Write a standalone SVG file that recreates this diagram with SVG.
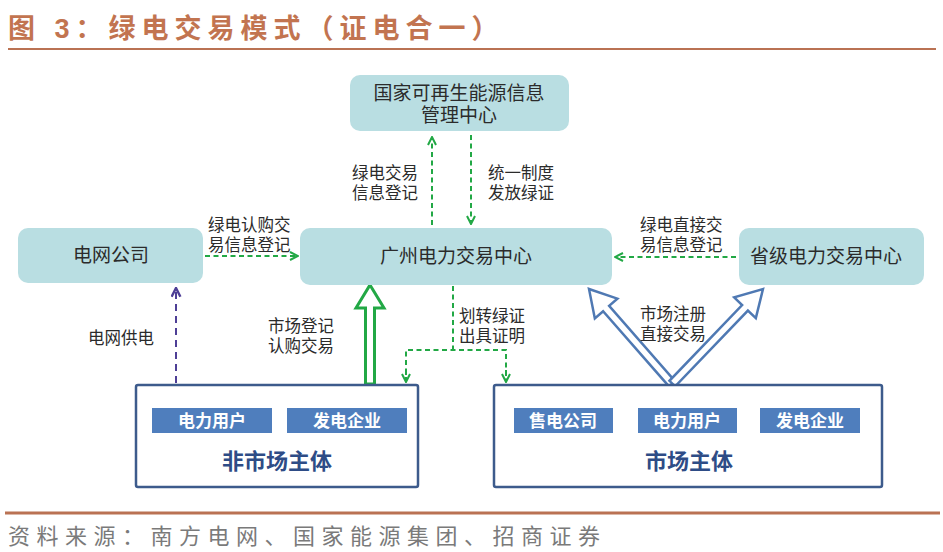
<svg xmlns="http://www.w3.org/2000/svg" width="943" height="552" viewBox="0 0 943 552">
<defs>
<style>
.t{font-family:"Liberation Sans","Noto Sans CJK SC",sans-serif;}
.node{fill:#B9DEE2;}
.nt{font-size:19px;fill:#2b2b2b;text-anchor:middle;}
.lb{font-size:16.5px;fill:#2b2b2b;}
.g{stroke:#22A845;stroke-width:2;fill:none;stroke-dasharray:5 3.5;}
.p{stroke:#4E3F96;stroke-width:2;fill:none;stroke-dasharray:7 5;}
.box{fill:#fff;stroke:#3D5B8C;stroke-width:2.5;}
.ib{fill:#4F7EBD;}
.it{font-size:17px;font-weight:bold;fill:#fff;text-anchor:middle;}
.bt{font-size:22px;font-weight:bold;fill:#2E4C86;text-anchor:middle;}
</style>
<marker id="ag" viewBox="0 0 10 10" refX="9" refY="5" markerWidth="10" markerHeight="10" markerUnits="userSpaceOnUse" orient="auto">
<polyline points="1,1 9,5 1,9" fill="none" stroke="#22A845" stroke-width="2"/>
</marker>
<marker id="ap" viewBox="0 0 10 10" refX="9" refY="5" markerWidth="11" markerHeight="11" markerUnits="userSpaceOnUse" orient="auto">
<polyline points="1,1 9,5 1,9" fill="none" stroke="#4E3F96" stroke-width="2.2"/>
</marker>
</defs>
<rect width="943" height="552" fill="#fff"/>
<text class="t" x="8" y="38" font-size="27" font-weight="bold" fill="#C27450" letter-spacing="6">图 3：绿电交易模式（证电合一）</text>
<line x1="8" y1="49" x2="936" y2="49" stroke="#BA7253" stroke-width="2"/>

<g id="connectors">
<line class="g" x1="432" y1="225" x2="432" y2="137" marker-end="url(#ag)"/>
<line class="g" x1="471" y1="135" x2="471" y2="224" marker-end="url(#ag)"/>
<line class="g" x1="205" y1="256" x2="298" y2="256" marker-end="url(#ag)"/>
<line class="g" x1="736" y1="257" x2="615" y2="257" marker-end="url(#ag)"/>
<polyline class="g" points="453,286 453,350"/>
<polyline class="g" points="406,382 406,350 506,350 506,382"/>
<line class="g" x1="406" y1="370" x2="406" y2="382" marker-end="url(#ag)" stroke-dasharray="none"/>
<line class="g" x1="506" y1="370" x2="506" y2="382" marker-end="url(#ag)" stroke-dasharray="none"/>
<line class="p" x1="176" y1="383" x2="176" y2="288" marker-end="url(#ap)"/>
<path transform="translate(370,285)" d="M0,0 L14,23 L4.5,23 L4.5,99 L-4.5,99 L-4.5,23 L-14,23 Z" fill="#fff" stroke="#22A845" stroke-width="3" stroke-linejoin="miter"/>
<path transform="translate(589,289) rotate(-41.2)" d="M0,0 L15,26 L4,26 L4,126 L-4,126 L-4,26 L-15,26 Z" fill="#fff" stroke="#4F79B3" stroke-width="2.5"/>
<path transform="translate(763,289) rotate(43.8)" d="M0,0 L15,26 L4,26 L4,131 L-4,131 L-4,26 L-15,26 Z" fill="#fff" stroke="#4F79B3" stroke-width="2.5"/>
<text class="t lb" x="352" y="179">绿电交易</text>
<text class="t lb" x="352" y="199">信息登记</text>
<text class="t lb" x="488" y="179">统一制度</text>
<text class="t lb" x="488" y="199">发放绿证</text>
<text class="t lb" x="208" y="231">绿电认购交</text>
<text class="t lb" x="208" y="251">易信息登记</text>
<text class="t lb" x="640" y="231">绿电直接交</text>
<text class="t lb" x="640" y="251">易信息登记</text>
<text class="t lb" x="88" y="344">电网供电</text>
<text class="t lb" x="268" y="332">市场登记</text>
<text class="t lb" x="268" y="352">认购交易</text>
<text class="t lb" x="459" y="322">划转绿证</text>
<text class="t lb" x="459" y="342">出具证明</text>
<text class="t lb" x="640" y="320">市场注册</text>
<text class="t lb" x="640" y="340">直接交易</text>
</g>

<g id="n-center-top">
<rect class="node" x="350" y="75" width="219" height="56" rx="10"/>
<text class="t nt" x="459" y="100">国家可再生能源信息</text>
<text class="t nt" x="459" y="122">管理中心</text>
</g>
<g id="n-guangzhou">
<rect class="node" x="300" y="228" width="312" height="57" rx="10"/>
<text class="t nt" x="456" y="263">广州电力交易中心</text>
</g>
<g id="n-grid">
<rect class="node" x="18" y="228" width="185" height="55" rx="10"/>
<text class="t nt" x="111" y="262">电网公司</text>
</g>
<g id="n-province">
<rect class="node" x="739" y="228" width="185" height="57" rx="10"/>
<text class="t nt" x="826" y="263">省级电力交易中心</text>
</g>
<g id="n-nonmarket">
<rect class="box" x="136" y="385" width="282" height="102" rx="2"/>
<rect class="ib" x="152" y="408" width="120" height="25"/>
<text class="t it" x="212" y="427">电力用户</text>
<rect class="ib" x="287" y="408" width="120" height="25"/>
<text class="t it" x="347" y="427">发电企业</text>
<text class="t bt" x="277" y="469">非市场主体</text>
</g>
<g id="n-market">
<rect class="box" x="494" y="385" width="388" height="102" rx="2"/>
<rect class="ib" x="514" y="408" width="99" height="25"/>
<text class="t it" x="563" y="427">售电公司</text>
<rect class="ib" x="638" y="408" width="99" height="25"/>
<text class="t it" x="687" y="427">电力用户</text>
<rect class="ib" x="760" y="408" width="100" height="25"/>
<text class="t it" x="810" y="427">发电企业</text>
<text class="t bt" x="689" y="469">市场主体</text>
</g>

<line x1="5" y1="513" x2="940" y2="513" stroke="#BA7253" stroke-width="3"/>
<text class="t" x="8" y="544" font-size="22" fill="#7a7a7a" letter-spacing="6.5">资料来源：南方电网、国家能源集团、招商证券</text>
</svg>
